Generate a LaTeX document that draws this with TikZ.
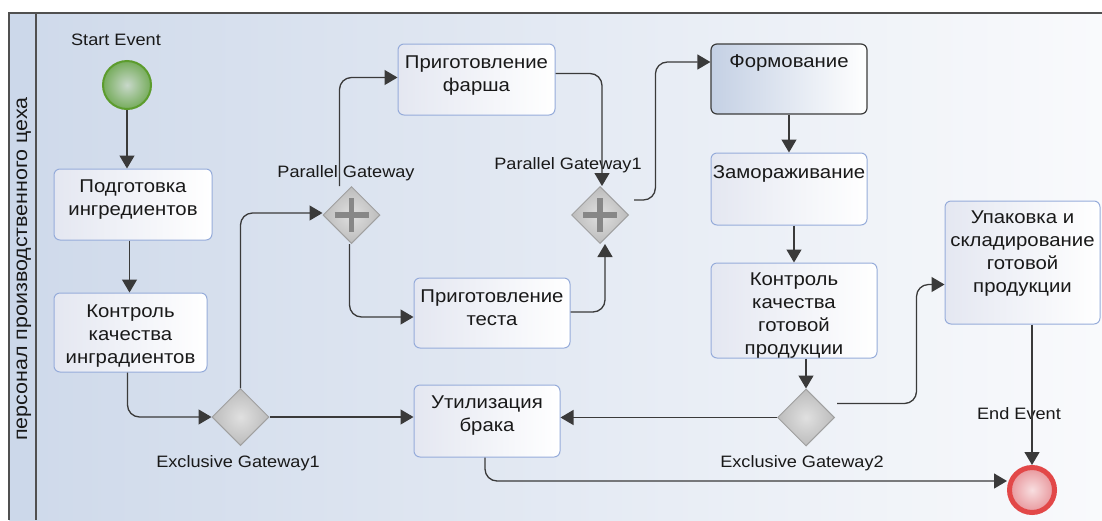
\documentclass[tikz,border=0pt]{standalone}
\usepackage{fontspec}
\setmainfont[FakeStretch=1.1]{Liberation Sans}
\usetikzlibrary{arrows.meta,shapes.geometric,calc}
\definecolor{bgL}{RGB}{206,217,234}
\definecolor{bgR}{RGB}{249,250,252}
\definecolor{hdr}{RGB}{204,216,234}
\definecolor{poolc}{RGB}{80,80,80}
\definecolor{taskB}{RGB}{150,172,218}
\definecolor{taskL}{RGB}{228,231,241}
\definecolor{foB}{RGB}{60,60,60}
\definecolor{foL}{RGB}{196,208,228}
\definecolor{gwB}{RGB}{160,160,160}
\definecolor{gwI}{RGB}{224,224,224}
\definecolor{gwO}{RGB}{188,188,188}
\definecolor{plusc}{RGB}{135,135,135}
\definecolor{stB}{RGB}{92,156,45}
\definecolor{stI}{RGB}{200,216,202}
\definecolor{stO}{RGB}{118,172,92}
\definecolor{enB}{RGB}{226,72,72}
\definecolor{enI}{RGB}{248,222,224}
\definecolor{enO}{RGB}{232,150,155}
\definecolor{flowc}{RGB}{58,58,58}
\definecolor{txt}{RGB}{25,25,25}
\begin{document}
\begin{tikzpicture}[x=1pt,y=-1pt,
  task/.style={draw=taskB, line width=1pt, rounded corners=6pt, left color=taskL, right color=white, inner sep=0pt},
  fotask/.style={draw=foB, line width=1.2pt, rounded corners=6pt, left color=foL, right color=white, inner sep=0pt},
  ttext/.style={anchor=north, inner sep=0pt, align=center, font=\fontsize{18.5}{23}\selectfont, text=txt},
  lbl/.style={anchor=base, inner sep=0pt, font=\fontsize{16.5}{20}\selectfont, text=txt},
  flow/.style={draw=flowc, line width=1.3pt, rounded corners=12pt, -{Triangle[length=13pt,width=15pt]}},
  gw/.style={diamond, aspect=1, minimum size=57pt, inner sep=0pt, draw=gwB, line width=1pt, inner color=gwI, outer color=gwO},
  plus/.style={draw=plusc, line width=5.5pt},
  startev/.style={circle, minimum size=48pt, inner sep=0pt, draw=stB, line width=2pt, inner color=stI, outer color=stO},
  endev/.style={circle, minimum size=45pt, inner sep=0pt, draw=enB, line width=5pt, inner color=enI, outer color=enO}
]
\useasboundingbox (0,0) rectangle (1102,520);
\fill[white] (0,0) rectangle (1102,520);
% pool background
\shade[left color=bgL, right color=bgR] (9,13) rectangle (1102,520);
\fill[hdr] (9,13) rectangle (36,520);
\draw[poolc, line width=1.5pt] (1102,13) -- (9,13) -- (9,520);
\draw[poolc, line width=1.5pt] (36,13) -- (36,520);
\node[rotate=90, inner sep=0pt, font=\fontsize{19.5}{21}\selectfont, text=txt] (lane) at (24,269) {персонал производственного цеха};

% events
\node[startev] (start) at (127,85) {};
\node[endev] (end) at (1032,490) {};

% tasks
\node[task, minimum width=158pt, minimum height=71pt] (t1) at (133,204.5) {};
\node[ttext] (t1x) at ($(t1.north)+(0,11.5)$) {Подготовка\\ингредиентов};
\node[task, minimum width=153pt, minimum height=79pt] (t2) at (130.5,332.5) {};
\node[ttext] (t2x) at ($(t2.north)+(0,12.5)$) {Контроль\\качества\\ингрaдиентов};
\node[task, minimum width=157pt, minimum height=71pt] (fa) at (476.5,79.5) {};
\node[ttext] (fax) at ($(fa.north)+(0,12.5)$) {Приготовление\\фарша};
\node[task, minimum width=156pt, minimum height=70pt] (te) at (492,313) {};
\node[ttext] (tex) at ($(te.north)+(0,12.5)$) {Приготовление\\теста};
\node[fotask, minimum width=156pt, minimum height=70pt] (fo) at (789,79) {};
\node[ttext] (fox) at ($(fo.north)+(0,11.5)$) {Формование};
\node[task, minimum width=156pt, minimum height=72pt] (za) at (789,189) {};
\node[ttext] (zax) at ($(za.north)+(0,12.5)$) {Замораживание};
\node[task, minimum width=166pt, minimum height=95pt] (kg) at (794,310.5) {};
\begin{scope}
\clip[rounded corners=6pt] (kg.south west) rectangle (kg.north east);
\node[ttext] (kgx) at ($(kg.north)+(0,10.5)$) {Контроль\\качества\\готовой\\продукции};
\end{scope}
\node[task, minimum width=155pt, minimum height=123pt] (up) at (1022.5,262.5) {};
\node[ttext] (upx) at ($(up.north)+(0,10.5)$) {Упаковка и\\складирование\\готовой\\продукции};
\node[task, minimum width=146pt, minimum height=72pt] (ut) at (487,421) {};
\node[ttext] (utx) at ($(ut.north)+(0,11.5)$) {Утилизация\\брака};

% gateways
\node[gw] (eg1) at (240.5,417) {};
\node[gw] (eg2) at (806,417.5) {};
\node[gw] (pg) at (351.5,215) {};
\node[gw] (pg1) at (600,215) {};
\draw[plus] ($(pg)+(-17,0)$) -- ($(pg)+(17,0)$) ($(pg)+(0,-17)$) -- ($(pg)+(0,17)$);
\draw[plus] ($(pg1)+(-17,0)$) -- ($(pg1)+(17,0)$) ($(pg1)+(0,-17)$) -- ($(pg1)+(0,17)$);

% labels
\node[lbl] (ls) at (116,45) {Start Event};
\node[lbl] (lpg) at (346,177) {Parallel Gateway};
\node[lbl] (lpg1) at (568,169) {Parallel Gateway1};
\node[lbl] (leg1) at (238,467) {Exclusive Gateway1};
\node[lbl] (leg2) at (802,467) {Exclusive Gateway2};
\node[lbl] (le) at (1019,419) {End Event};

% flows
\draw[flow] (start.south) -- (start.south |- t1.north);
\draw[flow] ($(t2.north |- t1.south)+(-1,0)$) -- ($(t2.north)+(-1,0)$);
\draw[flow] ($(t2.south)+(-3,0)$) |- (eg1.west);
\draw[flow] (eg1.north) |- ($(pg.west)+(0,-2)$);
\draw[flow] (eg1.east) -- (eg1.east -| ut.west);
\draw[flow] ($(pg.north)+(-12,0)$) |- ($(fa.west)+(0,-2)$);
\draw[flow] ($(pg.south)+(-2,0)$) |- ($(te.west)+(0,4)$);
\draw[flow] ($(fa.east)+(0,-6)$) -| ($(pg1.north)+(2,0)$);
\draw[flow] ($(te.east)+(0,-1)$) -| ($(pg1.south)+(5,0)$);
\draw[flow] ($(pg1.east)+(5,-15)$) -| ($(fo.west)+(-55,-17)$) -- ($(fo.west)+(0,-17)$);
\draw[flow] (fo.south) -- (fo.south |- za.north);
\draw[flow] (kg.north |- za.south) -- (kg.north);
\draw[flow] (eg2.north |- kg.south) -- (eg2.north);
\draw[flow] ($(eg2.east)+(2,-14)$) -| ($(up.west)+(-28,22)$) -- ($(up.west)+(0,22)$);
\draw[flow] (eg2.west) -- (eg2.west -| ut.east);
\draw[flow] ($(ut.south)+(-2,0)$) |- ($(end.west)+(0,-9)$);
\draw[flow] (end.north |- up.south) -- (end.north);
\end{tikzpicture}
\end{document}
